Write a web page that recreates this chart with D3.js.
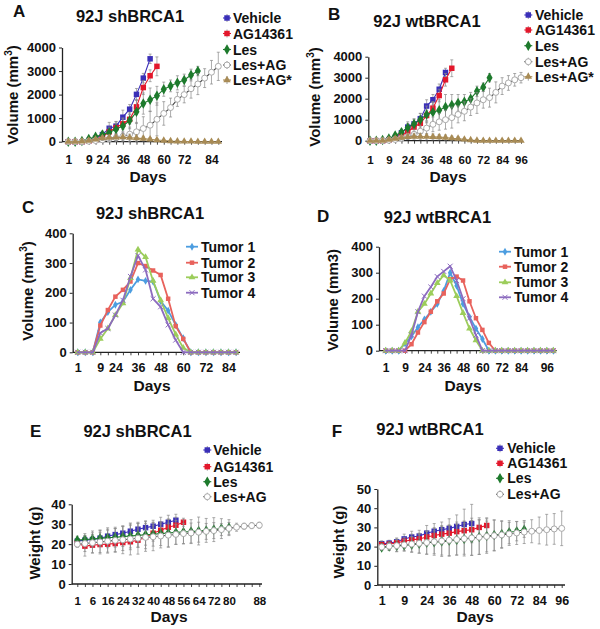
<!DOCTYPE html>
<html>
<head>
<meta charset="utf-8">
<script src="https://cdn.jsdelivr.net/npm/d3@7"></script>
<style>
  body { margin: 0; background: #fff; }
  svg text { font-family: "Liberation Sans", Arial, sans-serif; font-weight: bold; fill: #111; }
</style>
</head>
<body>
<div id="chart"></div>
<script>
/* Tumour volume / weight panels A-F */

// Panel A - 92J shBRCA1 volume
const daysA = [1, 4, 6, 9, 16, 24, 28, 32, 36, 40, 44, 48, 52, 56, 60, 64, 68, 72, 75, 78, 81, 84, 88];
const tickLabelsA = [1, 9, 24, 36, 48, 60, 72, 84];
const vehicleA = [0, 0, 0, 50, 150, 300, 570, 660, 1040, 1380, 2010, 2700, 3520];
const vehicleErrA = [0, 0, 0, 40, 80, 150, 250, 200, 300, 200, 250, 200, 200];
const agA = [0, 0, 0, 20, 80, 200, 420, 600, 760, 950, 1480, 2300, 2800, 3200];
const agErrA = [0, 0, 0, 20, 60, 120, 200, 250, 250, 200, 300, 300, 250, 400];
const lesA = [0, 0, 30, 110, 210, 300, 390, 530, 670, 900, 1270, 1620, 1780, 1950, 2230, 2370, 2500, 2620, 2830, 3000];
const lesErrA = [0, 0, 20, 50, 80, 120, 150, 250, 300, 350, 500, 450, 500, 400, 300, 250, 300, 250, 250, 200];
const lesAgA = [0, 0, 0, 20, 50, 80, 120, 160, 220, 320, 420, 560, 700, 950, 1200, 1450, 1800, 2000, 2250, 2450, 2700, 2950, 3200];
const lesAgErrA = [0, 0, 0, 20, 40, 60, 100, 150, 200, 300, 400, 500, 600, 700, 500, 400, 300, 350, 400, 450, 400, 500, 600];
const lesAgStarA = [0, 0, 20, 50, 100, 150, 170, 180, 190, 170, 150, 130, 100, 70, 50, 30, 20, 10, 10, 0, 0, 0, 0];
const lesAgStarErrA = [0, 0, 10, 30, 60, 100, 120, 130, 150, 150, 120, 100, 80, 60, 40, 30, 20, 10, 10, 10, 10, 10, 10];

// Panel B - 92J wtBRCA1 volume
const daysB = [1, 4, 6, 9, 14, 19, 24, 28, 32, 36, 40, 44, 48, 52, 56, 60, 64, 68, 72, 76, 80, 84, 88, 92, 96];
const tickLabelsB = [1, 9, 24, 36, 48, 60, 72, 84, 96];
const vehicleB = [0, 0, 0, 50, 150, 380, 650, 800, 1050, 1650, 1950, 2450, 3250];
const vehicleErrB = [0, 0, 0, 30, 80, 150, 250, 200, 250, 300, 250, 250, 200];
const agB = [0, 0, 0, 30, 100, 250, 430, 650, 830, 1200, 1550, 2150, 2900, 3450];
const agErrB = [0, 0, 0, 20, 60, 120, 200, 250, 300, 250, 300, 300, 300, 400];
const lesB = [0, 0, 30, 100, 250, 400, 620, 800, 1000, 1250, 1350, 1450, 1600, 1700, 1800, 1850, 2000, 2350, 2550, 3000];
const lesErrB = [0, 0, 20, 60, 100, 150, 200, 250, 300, 400, 500, 500, 600, 500, 400, 350, 300, 250, 200, 200];
const lesAgB = [0, 0, 0, 20, 60, 120, 200, 300, 450, 600, 780, 900, 1000, 1100, 1250, 1400, 1600, 1800, 1950, 2050, 2300, 2600, 2750, 2900, 3000];
const lesAgErrB = [0, 0, 0, 20, 50, 80, 100, 150, 200, 300, 350, 400, 450, 500, 400, 450, 400, 500, 400, 450, 500, 400, 350, 300, 250];
const lesAgStarB = [0, 0, 0, 50, 100, 150, 180, 200, 200, 190, 180, 170, 150, 120, 100, 60, 30, 10, 0, 0, 0, 0, 0, 0, 0];
const lesAgStarErrB = [0, 0, 0, 30, 60, 100, 120, 130, 150, 150, 140, 130, 120, 100, 80, 50, 30, 20, 10, 10, 10, 10, 10, 10, 10];

// Panel C - individual tumours, shBRCA1
const daysC = [1, 4, 6, 9, 16, 24, 28, 32, 36, 40, 44, 48, 52, 56, 60, 64, 68, 72, 76, 80, 84, 88];
const tickLabelsC = [1, 9, 24, 36, 48, 60, 72, 84];
const tumor1C = [0, 0, 0, 100, 135, 160, 170, 210, 245, 240, 238, 172, 140, 92, 47, 0, 0, 0, 0, 0, 0, 0];
const tumor2C = [0, 0, 0, 90, 142, 187, 210, 238, 300, 290, 275, 260, 180, 88, 45, 0, 0, 0, 0, 0, 0, 0];
const tumor3C = [0, 0, 0, 45, 80, 125, 165, 250, 345, 320, 240, 175, 115, 60, 15, 0, 0, 0, 0, 0, 0, 0];
const tumor4C = [0, 0, 0, 65, 80, 125, 175, 255, 325, 277, 180, 153, 92, 41, 0, 0, 0, 0, 0, 0, 0, 0];

// Panel D - individual tumours, wtBRCA1
const daysD = [1, 4, 6, 9, 14, 19, 24, 28, 32, 36, 40, 44, 48, 52, 56, 60, 64, 68, 72, 76, 80, 84, 87, 90, 93, 96, 100];
const tickLabelsD = [1, 9, 24, 36, 48, 60, 72, 84, 96];
const tumor1D = [0, 0, 0, 28, 55, 90, 120, 150, 180, 230, 300, 250, 180, 130, 85, 45, 0, 0, 0, 0, 0, 0, 0, 0, 0, 0, 0];
const tumor2D = [0, 0, 0, 0, 25, 70, 110, 150, 190, 220, 275, 285, 270, 190, 125, 80, 30, 0, 0, 0, 0, 0, 0, 0, 0, 0, 0];
const tumor3D = [0, 0, 0, 30, 75, 150, 180, 220, 260, 290, 270, 210, 145, 85, 40, 0, 0, 0, 0, 0, 0, 0, 0, 0, 0, 0, 0];
const tumor4D = [0, 0, 0, 0, 60, 150, 210, 245, 285, 305, 325, 270, 200, 125, 60, 0, 0, 0, 0, 0, 0, 0, 0, 0, 0, 0, 0];

// Panel E - body weight, shBRCA1
const daysE = [1, 3, 6, 11, 16, 20, 24, 28, 32, 36, 40, 44, 48, 52, 56, 60, 64, 68, 72, 76, 80, 82, 84, 86, 88];
const tickLabelsE = [1, 6, 16, 24, 32, 40, 48, 56, 64, 72, 80, 88];
const vehicleE = [21.5, 22, 22.3, 23, 24, 24.8, 25.5, 26.5, 27.5, 28.3, 29, 30, 31, 32];
const vehicleErrE = [1.5, 2, 2.5, 3, 3, 3, 3.5, 3, 3, 3, 3, 3.5, 3.5, 3];
const agE = [20.5, 19, 19.5, 19.8, 20, 20.3, 20.8, 21.2, 22, 23.5, 25.5, 27, 28.5, 29.5, 31];
const agErrE = [2, 5, 4, 4, 4, 4, 4, 4, 3.5, 4, 4, 4, 4, 4, 2];
const lesE = [22, 22.3, 22.6, 22.9, 23.2, 23.5, 23.8, 24.1, 24.4, 24.7, 25, 25.3, 25.6, 25.9, 26.1, 26.3, 26.6, 26.9, 27.3, 27.8, 28.3];
const lesErrE = [2, 3, 4, 4, 5, 5, 5, 6, 6, 7, 6, 6, 7, 6, 6, 6, 7, 6, 6, 5, 4];
const lesAgE = [20, 20.3, 20.7, 21.1, 21.5, 21.9, 22.2, 22.6, 23, 23.4, 23.7, 24.1, 24.5, 24.9, 25.3, 25.6, 26, 26.4, 26.8, 27.3, 27.9, 28.5, 29, 29.3, 29.5];
const lesAgErrE = [1.5, 4, 5, 6, 6, 6, 7, 8, 8, 7, 7, 6, 6, 5, 5, 5, 5, 4, 4, 3, 3, 2, 1.5, 1.5, 1.5];

// Panel F - body weight, wtBRCA1
const daysF = [1, 4, 6, 9, 14, 19, 24, 28, 32, 36, 40, 44, 48, 52, 56, 60, 64, 68, 72, 76, 80, 84, 88, 92, 96];
const tickLabelsF = [1, 9, 24, 36, 48, 60, 72, 84, 96];
const vehicleF = [21.5, 21.8, 22.5, 24, 25, 25.5, 27, 28, 28.8, 29.5, 30.5, 31.5, 32];
const vehicleErrF = [1.5, 1.5, 2, 2.5, 3, 3, 4, 4, 4, 5, 6, 8, 10];
const agF = [21, 21.2, 22, 22.8, 23.5, 24, 25, 25.8, 26.5, 27, 27.8, 28.3, 28.8, 30, 31];
const agErrF = [1.5, 1.5, 2, 2, 3, 3, 3, 4, 4, 4, 5, 5, 6, 5, 4];
const lesF = [19.5, 20, 20.3, 20.6, 21, 21.5, 22, 22.3, 22.6, 23, 23.5, 24, 24.4, 25, 25.5, 26, 26.5, 27.5, 28, 28.8];
const lesErrF = [1.5, 2, 3, 3, 4, 5, 6, 6, 7, 8, 8, 8, 9, 9, 9, 8, 7, 6, 5, 4];
const lesAgF = [19.8, 20.2, 20.5, 20.9, 21.3, 21.7, 22.1, 22.5, 22.9, 23.3, 23.7, 24.1, 24.5, 24.9, 25.3, 25.7, 26.1, 26.6, 27.1, 27.6, 28, 28.4, 28.8, 29.2, 29.5];
const lesAgErrF = [1.5, 2, 3, 3, 4, 5, 6, 7, 8, 8, 8, 9, 9, 9, 8, 8, 7, 6, 6, 6, 6, 7, 8, 8, 9];

const colors = {
  vehicle: '#3a2fb8', ag: '#e3172b', les: '#1d7a2c', lesAg: '#444', lesAgMark: '#aaa', star: '#a88b55',
  t1: '#4c9de0', t2: '#e8625c', t3: '#9ccd5b', t4: '#8c6bbf'
};

const svg = d3.select('#chart').append('svg').attr('width', 600).attr('height', 629);

// series styles
function drugSeries(veh, vehErr, ag, agErr, les, lesErr, lesAg, lesAgErr, star, starErr) {
  const s = [
    { name: 'Vehicle', vals: veh, errs: vehErr, line: colors.vehicle, fill: colors.vehicle, stroke: 'none', sym: d3.symbolSquare, size: 30 },
    { name: 'AG14361', vals: ag, errs: agErr, line: colors.ag, fill: colors.ag, stroke: 'none', sym: d3.symbolSquare, size: 30 },
    { name: 'Les', vals: les, errs: lesErr, line: colors.les, fill: colors.les, stroke: 'none', sym: d3.symbolDiamond, size: 32 },
    { name: 'Les+AG', vals: lesAg, errs: lesAgErr, line: colors.lesAg, fill: '#fff', stroke: colors.lesAgMark, sym: d3.symbolCircle, size: 28 }
  ];
  if (star) s.push({ name: 'Les+AG*', vals: star, errs: starErr, line: colors.star, fill: colors.star, stroke: 'none', sym: d3.symbolTriangle, size: 24 });
  return s;
}

function tumorSeries(t1, t2, t3, t4) {
  return [
    { name: 'Tumor 1', vals: t1, line: colors.t1, fill: colors.t1, stroke: 'none', sym: d3.symbolDiamond, size: 18 },
    { name: 'Tumor 2', vals: t2, line: colors.t2, fill: colors.t2, stroke: 'none', sym: d3.symbolSquare, size: 20 },
    { name: 'Tumor 3', vals: t3, line: colors.t3, fill: colors.t3, stroke: 'none', sym: d3.symbolTriangle, size: 20 },
    { name: 'Tumor 4', vals: t4, line: colors.t4, fill: 'none', stroke: colors.t4, sym: d3.symbolTimes, size: 18 }
  ];
}

function drawPanel(p) {
  const g = svg.append('g');
  const x = d3.scalePoint().domain(p.days).range(p.xr);
  const y = d3.scaleLinear().domain(p.yDomain).range(p.yr);

  // y axis
  const ya = g.append('g')
    .attr('transform', `translate(${p.axisX},0)`)
    .call(d3.axisLeft(y).tickValues(p.yTicks).tickFormat(d3.format('d'))
      .tickSize(3).tickPadding(3).tickSizeOuter(0));
  ya.selectAll('text').attr('font-size', 13);
  ya.select('.domain').attr('stroke', '#222').attr('stroke-width', 1.3);
  ya.selectAll('.tick line').attr('stroke', '#222');

  // x axis: a tick at every measurement day, labels on some of them
  const pad = p.tickBase - y(0) - 3 - 0.71 * p.tickFont;
  const xa = g.append('g')
    .attr('transform', `translate(0,${y(0)})`)
    .call(d3.axisBottom(x).tickSize(3).tickPadding(pad)
      .tickFormat(d => p.ticks.includes(d) ? d : ''));
  xa.select('.domain').remove();
  xa.selectAll('text').attr('font-size', p.tickFont);
  xa.selectAll('.tick line').attr('stroke', '#444');
  g.append('line')
    .attr('x1', p.axisX).attr('x2', p.axisEnd)
    .attr('y1', y(0)).attr('y2', y(0))
    .attr('stroke', '#222').attr('stroke-width', 1.3);

  // series
  p.series.forEach(s => {
    const pts = s.vals.map((v, i) => ({ d: p.days[i], v, e: s.errs ? s.errs[i] : 0 }));
    if (s.errs) {
      const eb = g.append('g').attr('stroke', '#888').attr('stroke-width', 0.7);
      pts.filter(d => d.e > 0).forEach(d => {
        const lo = y(Math.max(p.yDomain[0], d.v - d.e));
        const hi = y(d.v + d.e);
        const cx = x(d.d);
        eb.append('line').attr('x1', cx).attr('x2', cx).attr('y1', lo).attr('y2', hi);
        eb.append('line').attr('x1', cx - 1.5).attr('x2', cx + 1.5).attr('y1', hi).attr('y2', hi);
        eb.append('line').attr('x1', cx - 1.5).attr('x2', cx + 1.5).attr('y1', lo).attr('y2', lo);
      });
    }
    g.append('path')
      .datum(pts)
      .attr('fill', 'none')
      .attr('stroke', s.line)
      .attr('stroke-width', p.lineWidth)
      .attr('d', d3.line().x(d => x(d.d)).y(d => y(d.v)));
    g.selectAll(null)
      .data(pts)
      .join('path')
      .attr('transform', d => `translate(${x(d.d)},${y(d.v)})`)
      .attr('d', d3.symbol().type(s.sym).size(s.size))
      .attr('fill', s.fill)
      .attr('stroke', s.stroke)
      .attr('stroke-width', 1);
  });

  // legend
  p.series.forEach((s, i) => {
    const ly = p.legend.ys[i];
    const lx = p.legend.x;
    const half = p.legend.half;
    g.append('line').attr('x1', lx - half).attr('x2', lx + half).attr('y1', ly).attr('y2', ly)
      .attr('stroke', s.line).attr('stroke-width', p.lineWidth);
    if (s.errs) {
      g.append('line').attr('x1', lx).attr('x2', lx).attr('y1', ly - 4).attr('y2', ly + 4)
        .attr('stroke', '#888').attr('stroke-width', 0.8);
    }
    g.append('path')
      .attr('transform', `translate(${lx},${ly})`)
      .attr('d', d3.symbol().type(s.sym).size(s.size))
      .attr('fill', s.fill).attr('stroke', s.stroke).attr('stroke-width', 1);
    g.append('text')
      .attr('x', p.legend.tx).attr('y', ly).attr('dy', '0.36em')
      .attr('font-size', 14)
      .text(s.name);
  });

  // titles and labels
  g.append('text').attr('x', p.letter[1]).attr('y', p.letter[2]).attr('font-size', 17).text(p.letter[0]);
  g.append('text').attr('x', p.title[1]).attr('y', p.title[2]).attr('text-anchor', 'middle')
    .attr('font-size', 16.5).text(p.title[0]);
  g.append('text').attr('x', p.daysPos[0]).attr('y', p.daysPos[1]).attr('text-anchor', 'middle')
    .attr('font-size', 15.5).text('Days');

  const yl = g.append('text')
    .attr('transform', `translate(${p.yLabelPos[0]},${p.yLabelPos[1]}) rotate(-90)`)
    .attr('text-anchor', 'middle').attr('dy', '0.35em')
    .attr('font-size', 15);
  if (p.yLabelSup) {
    yl.append('tspan').text(p.yLabel);
    yl.append('tspan').attr('font-size', 10).attr('dy', -6).text('3');
    yl.append('tspan').attr('dy', 6).text(')');
  } else {
    yl.text(p.yLabel);
  }
}

drawPanel({
  days: daysA, ticks: tickLabelsA, xr: [68.3, 218.3], axisX: 62, axisEnd: 222,
  yDomain: [0, 4000], yr: [141.7, 47.5], yTicks: [0, 1000, 2000, 3000, 4000], tickBase: 164, tickFont: 12, lineWidth: 1.1,
  series: drugSeries(vehicleA, vehicleErrA, agA, agErrA, lesA, lesErrA, lesAgA, lesAgErrA, lesAgStarA, lesAgStarErrA),
  legend: { x: 227, half: 4, tx: 233, ys: [18, 33.5, 49.5, 65, 80] },
  letter: ['A', 13, 17], title: ['92J shBRCA1', 130, 22], daysPos: [148, 181.5],
  yLabel: 'Volume (mm', yLabelSup: true, yLabelPos: [13, 95]
});

drawPanel({
  days: daysB, ticks: tickLabelsB, xr: [370, 521], axisX: 368.3, axisEnd: 523,
  yDomain: [0, 4000], yr: [140.7, 56.7], yTicks: [0, 1000, 2000, 3000, 4000], tickBase: 164.5, tickFont: 11.5, lineWidth: 1.1,
  series: drugSeries(vehicleB, vehicleErrB, agB, agErrB, lesB, lesErrB, lesAgB, lesAgErrB, lesAgStarB, lesAgStarErrB),
  legend: { x: 528.3, half: 4, tx: 535, ys: [15, 30, 45.7, 61.7, 76.7] },
  letter: ['B', 328, 19.5], title: ['92J wtBRCA1', 427, 27], daysPos: [448, 181.5],
  yLabel: 'Volume (mm', yLabelSup: true, yLabelPos: [315, 97]
});

drawPanel({
  days: daysC, ticks: tickLabelsC, xr: [77.7, 236], axisX: 72.7, axisEnd: 240,
  yDomain: [0, 400], yr: [352.3, 233.3], yTicks: [0, 100, 200, 300, 400], tickBase: 372.5, tickFont: 12.5, lineWidth: 1.8,
  series: tumorSeries(tumor1C, tumor2C, tumor3C, tumor4C),
  legend: { x: 192, half: 6, tx: 201, ys: [246.7, 262.7, 277.3, 292.7] },
  letter: ['C', 22, 213], title: ['92J shBRCA1', 150, 218.5], daysPos: [152, 390.5],
  yLabel: 'Volume (mm', yLabelSup: true, yLabelPos: [28, 291]
});

drawPanel({
  days: daysD, ticks: tickLabelsD, xr: [385.7, 553.3], axisX: 379, axisEnd: 556.7,
  yDomain: [0, 400], yr: [350.7, 246.7], yTicks: [0, 100, 200, 300, 400], tickBase: 372.5, tickFont: 12, lineWidth: 1.8,
  series: tumorSeries(tumor1D, tumor2D, tumor3D, tumor4D),
  legend: { x: 505, half: 6, tx: 514, ys: [251.7, 266.7, 282.3, 297.3] },
  letter: ['D', 317, 221.7], title: ['92J wtBRCA1', 437.5, 223.3], daysPos: [463, 390.5],
  yLabel: 'Volume (mm3)', yLabelSup: false, yLabelPos: [333, 300]
});

drawPanel({
  days: daysE, ticks: tickLabelsE, xr: [77.3, 259.3], axisX: 71.7, axisEnd: 262,
  yDomain: [0, 40], yr: [584, 504.3], yTicks: [0, 10, 20, 30, 40], tickBase: 604.5, tickFont: 11.5, lineWidth: 1.1,
  series: drugSeries(vehicleE, vehicleErrE, agE, agErrE, lesE, lesErrE, lesAgE, lesAgErrE),
  legend: { x: 207.3, half: 4, tx: 213.3, ys: [450, 466.7, 481.7, 496.7] },
  letter: ['E', 30, 436.7], title: ['92J shBRCA1', 137.5, 436.7], daysPos: [169, 622],
  yLabel: 'Weight (g)', yLabelSup: false, yLabelPos: [35, 543]
});

drawPanel({
  days: daysF, ticks: tickLabelsF, xr: [381.7, 561.7], axisX: 377.3, axisEnd: 565,
  yDomain: [0, 50], yr: [585, 489], yTicks: [0, 10, 20, 30, 40, 50], tickBase: 604.5, tickFont: 12.5, lineWidth: 1.1,
  series: drugSeries(vehicleF, vehicleErrF, agF, agErrF, lesF, lesErrF, lesAgF, lesAgErrF),
  legend: { x: 500, half: 4, tx: 507.3, ys: [448.3, 463.3, 478.3, 494.3] },
  letter: ['F', 331.7, 436.7], title: ['92J wtBRCA1', 430, 435], daysPos: [475, 622],
  yLabel: 'Weight (g)', yLabelSup: false, yLabelPos: [339, 542]
});
</script>
</body>
</html>
